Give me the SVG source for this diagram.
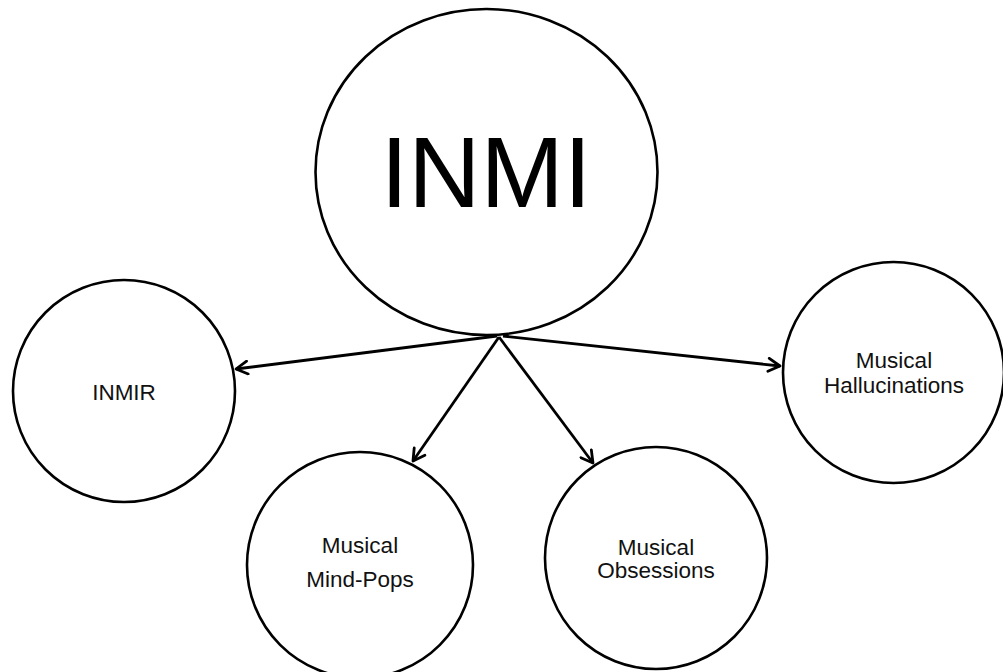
<svg xmlns="http://www.w3.org/2000/svg" width="1003" height="672" viewBox="0 0 1003 672">
  <style>
    .node { fill: #ffffff; stroke: #000000; stroke-width: 2.6; }
    .label { font-family: "Liberation Sans", Arial, sans-serif; font-size: 22.5px; fill: #111111; text-anchor: middle; }
    .title { font-family: "Liberation Sans", Arial, sans-serif; font-size: 100px; fill: #000000; text-anchor: middle; }
    .edge { fill: none; stroke: #000000; stroke-width: 2.8; marker-end: url(#arrow); }
  </style>
  <defs>
    <!-- open chevron arrowhead -->
    <marker id="arrow" markerUnits="userSpaceOnUse" markerWidth="16" markerHeight="16" viewBox="0 0 16 16" refX="14" refY="8" orient="auto">
      <path d="M2.5,1.5 L14,8 L2.5,14.5" fill="none" stroke="#000000" stroke-width="2.8" stroke-linecap="round" stroke-linejoin="round"/>
    </marker>
  </defs>

  <rect width="1003" height="672" fill="#ffffff"/>

  <g id="connectors">
    <line class="edge" x1="497" y1="336" x2="236" y2="369"/>
    <line class="edge" x1="503" y1="336" x2="780" y2="366"/>
    <line class="edge" x1="499" y1="337" x2="413" y2="461"/>
    <line class="edge" x1="499" y1="337" x2="593" y2="463"/>
  </g>

  <g id="inmi">
    <ellipse class="node" cx="486.5" cy="172" rx="171" ry="163" stroke-width="2.5"/>
    <text class="title" x="486" y="207">INMI</text>
  </g>

  <g id="inmir">
    <circle class="node" cx="124" cy="391" r="111"/>
    <text class="label" x="124" y="400">INMIR</text>
  </g>

  <g id="mind-pops">
    <circle class="node" cx="360" cy="565" r="113"/>
    <text class="label" x="360" y="553">Musical</text>
    <text class="label" x="360" y="587">Mind-Pops</text>
  </g>

  <g id="obsessions">
    <circle class="node" cx="656" cy="558" r="111"/>
    <text class="label" x="656" y="555">Musical</text>
    <text class="label" x="656" y="578">Obsessions</text>
  </g>

  <g id="hallucinations">
    <circle class="node" cx="893.5" cy="372.5" r="110.5"/>
    <text class="label" x="894" y="368">Musical</text>
    <text class="label" x="894" y="393">Hallucinations</text>
  </g>
</svg>
